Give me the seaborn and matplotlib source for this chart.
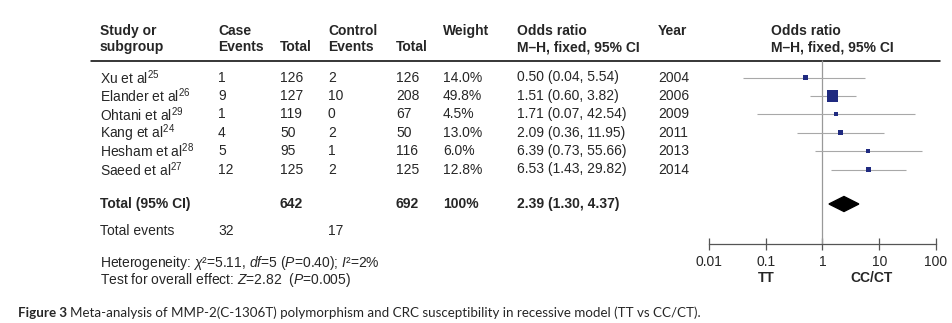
import numpy as np
import pandas as pd
import matplotlib
matplotlib.use("Agg")
import matplotlib.pyplot as plt
import seaborn as sns

studies = ["Xu et al", "Elander et al", "Ohtani et al", "Kang et al", "Hesham et al", "Saeed et al"]
refs = ["25", "26", "29", "24", "28", "27"]
case_events = [1, 9, 1, 4, 5, 12]
case_total = [126, 127, 119, 50, 95, 125]
ctrl_events = [2, 10, 0, 2, 1, 2]
ctrl_total = [126, 208, 67, 50, 116, 125]
weights = [14.0, 49.8, 4.5, 13.0, 6.0, 12.8]
odds = [0.50, 1.51, 1.71, 2.09, 6.39, 6.53]
ci_lo = [0.04, 0.60, 0.07, 0.36, 0.73, 1.43]
ci_hi = [5.54, 3.82, 42.54, 11.95, 55.66, 29.82]
years = [2004, 2006, 2009, 2011, 2013, 2014]
total_case, total_ctrl = 642, 692
events_case, events_ctrl = 32, 17
pooled_or, pooled_lo, pooled_hi = 2.39, 1.30, 4.37
xticks = [0.01, 0.1, 1, 10, 100]
xticklabels = ["0.01", "0.1", "1", "10", "100"]

sns.set_style("white")
plt.rcParams['font.family'] = ['Liberation Sans', 'DejaVu Sans']
plt.rcParams['mathtext.fontset'] = 'custom'
plt.rcParams['mathtext.rm'] = 'Liberation Sans'
plt.rcParams['mathtext.it'] = 'Liberation Sans:italic'
plt.rcParams['mathtext.bf'] = 'Liberation Sans:bold'

W, H = 953, 323
fig = plt.figure(figsize=(W / 100, H / 100), dpi=100)
fig.patch.set_facecolor("white")

tax = fig.add_axes([0, 0, 1, 1])
tax.set_xlim(0, W)
tax.set_ylim(H, 0)
tax.axis("off")

fs = 10
row_y0, row_dy = 77.5, 18.4
ys = [row_y0 + i * row_dy for i in range(len(studies))]

cols = dict(study=100, ce=218, ct=280, oe=328, ot=396, w=443, orr=517, yr=658, orr2=771)

# headers
hb = dict(fontsize=fs, fontweight="bold", va="center", ha="left")
tax.text(cols['study'], 31, "Study or", **hb)
tax.text(cols['study'], 47, "subgroup", **hb)
tax.text(cols['ce'], 31, "Case", **hb)
tax.text(cols['ce'], 47, "Events", **hb)
tax.text(cols['ct'], 47, "Total", **hb)
tax.text(cols['oe'], 31, "Control", **hb)
tax.text(cols['oe'], 47, "Events", **hb)
tax.text(cols['ot'], 47, "Total", **hb)
tax.text(cols['w'], 31, "Weight", **hb)
tax.text(cols['orr'], 31, "Odds ratio", **hb)
tax.text(cols['orr'], 47, "M–H, fixed, 95% CI", **hb)
tax.text(cols['yr'], 31, "Year", **hb)
tax.text(cols['orr2'], 31, "Odds ratio", **hb)
tax.text(cols['orr2'], 47, "M–H, fixed, 95% CI", **hb)
tax.plot([91, 940], [61, 61], color="black", lw=1.1)

nb = dict(fontsize=fs, va="center", ha="left")
for i, y in enumerate(ys):
    tax.text(cols['study'], y, studies[i] + "$^{" + refs[i] + "}$", **nb)
    tax.text(cols['ce'], y, str(case_events[i]), **nb)
    tax.text(cols['ct'], y, str(case_total[i]), **nb)
    tax.text(cols['oe'], y, str(ctrl_events[i]), **nb)
    tax.text(cols['ot'], y, str(ctrl_total[i]), **nb)
    tax.text(cols['w'], y, f"{weights[i]:.1f}%", **nb)
    tax.text(cols['orr'], y, f"{odds[i]:.2f} ({ci_lo[i]:.2f}, {ci_hi[i]:.2f})", **nb)
    tax.text(cols['yr'], y, str(years[i]), **nb)

ty = 204
bb = dict(fontsize=fs, va="center", ha="left", fontweight="bold")
tax.text(cols['study'], ty, "Total (95% CI)", **bb)
tax.text(cols['ct'], ty, str(total_case), **bb)
tax.text(cols['ot'], ty, str(total_ctrl), **bb)
tax.text(cols['w'], ty, "100%", **bb)
tax.text(cols['orr'], ty, f"{pooled_or:.2f} ({pooled_lo:.2f}, {pooled_hi:.2f})", **bb)

tax.text(cols['study'], 231, "Total events", **nb)
tax.text(cols['ce'], 231, str(events_case), **nb)
tax.text(cols['oe'], 231, str(events_ctrl), **nb)
tax.text(cols['study'], 262.5, r"Heterogeneity: $\chi$²=5.11, $df$=5 ($P$=0.40); $I$²=2%", **nb)
tax.text(cols['study'], 280, r"Test for overall effect: $Z$=2.82  ($P$=0.005)", **nb)

# forest plot axes
x0, x1 = 709, 936
fax = fig.add_axes([x0 / W, 0, (x1 - x0) / W, 1])
fax.set_xscale("log")
fax.set_xlim(0.01, 100)
fax.set_ylim(H, 0)
fax.patch.set_alpha(0)
for s in ["top", "right", "left"]:
    fax.spines[s].set_visible(False)
fax.spines["bottom"].set_position(("data", 243.5))
fax.spines["bottom"].set_color("#555555")
fax.spines["bottom"].set_linewidth(0.9)
fax.set_yticks([])
fax.set_xticks(xticks)
fax.set_xticklabels(xticklabels)
fax.minorticks_off()
fax.tick_params(axis="x", direction="inout", length=8, width=0.9, color="#555555",
                labelsize=fs, pad=4, bottom=True)

fax.vlines(1, 60, 243.5, color="#999999", lw=0.9, zorder=1)

df = pd.DataFrame(dict(study=studies, odds=odds, lo=ci_lo, hi=ci_hi, weight=weights, y=ys))
fax.hlines(df["y"], df["lo"], df["hi"], color="#a8a8a8", lw=0.8, zorder=2)
wmin, wmax = min(weights), max(weights)
size_map = {w: 9 + 60 * ((w - wmin) / (wmax - wmin)) ** 2 for w in weights}
sns.scatterplot(data=df, x="odds", y="y", size="weight", sizes=size_map, marker="s",
                color="#1f2a80", edgecolor="none", legend=False, ax=fax, zorder=3)
fax.set_xlabel("")
fax.set_ylabel("")

dh = 7.5
fax.fill([pooled_lo, pooled_or, pooled_hi, pooled_or], [ty, ty - dh, ty, ty + dh],
         color="black", zorder=3)

tax.text(766, 278.5, "TT", fontsize=fs, fontweight="bold", ha="center", va="center")
tax.text(872, 278.5, "CC/CT", fontsize=fs, fontweight="bold", ha="center", va="center")

# caption
cap_fs = 9.6
t1 = tax.text(18, 313, "Figure 3", fontsize=cap_fs, fontweight="bold", va="center", ha="left",
              family=["Lato", "DejaVu Sans"])
fig.canvas.draw()
bbox = t1.get_window_extent(renderer=fig.canvas.get_renderer())
tax.text(bbox.x1 + 3, 313,
         "Meta-analysis of MMP-2(C-1306T) polymorphism and CRC susceptibility in recessive model (TT vs CC/CT).",
         fontsize=cap_fs, va="center", ha="left", family=["Lato", "DejaVu Sans"])

fig.savefig("out.png", dpi=100, facecolor="white")
